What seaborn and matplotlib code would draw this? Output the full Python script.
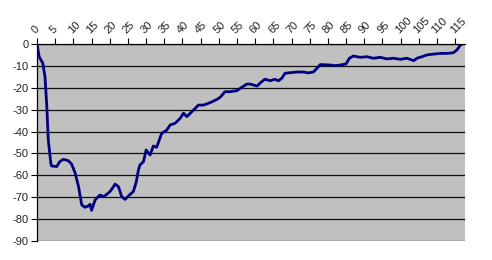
import matplotlib
matplotlib.use("Agg")
import matplotlib.pyplot as plt
import matplotlib.transforms as mtransforms
import seaborn as sns
import pandas as pd

sns.set_style("white")
plt.rcParams['font.family'] = ['Liberation Sans', 'DejaVu Sans']

x_vals = [0, 0.6, 1.6, 2.2, 2.7, 3.1, 3.8, 4.0, 5.4, 6.3, 7.2, 8.6, 9.5, 10.5, 11.4,
          12.3, 13.2, 14.1, 14.6, 15.0, 16.0, 17.3, 18.4, 20.1, 21.5, 22.4, 23.3, 24.2,
          25.4, 26.5, 27.3, 27.9, 28.3, 29.3, 30.0, 31.1, 32.0, 32.9, 34.3, 35.7,
          36.6, 38.0, 39.4, 40.3, 41.2, 42.6, 44.4, 45.8, 47.6, 49.5, 50.4, 51.7,
          53.1, 55.0, 56.3, 57.7, 58.6, 60.5, 61.8, 62.7, 64.1, 65.5, 66.4, 67.3,
          68.2, 69.6, 71.5, 73.3, 74.6, 76.0, 77.0, 77.9, 80.6, 82.0, 83.4, 85.0, 85.9, 87.0,
          88.9, 90.7, 92.5, 94.4, 96.2, 98.0, 99.9, 101.7, 103.6, 104.5, 105.9,
          107.2, 109.1, 110.9, 112.7, 114.5, 115.5, 116.4, 117.0]
y_vals = [0, -5.8, -8.8, -15, -28.6, -43.8, -54.5, -55.7, -56, -53.7, -52.7, -53.3,
          -54.8, -59, -65, -73.5, -74.6, -74, -73.2, -76, -71.2, -69, -69.7, -67.4, -64,
          -65.2, -69.7, -71, -69, -67.4, -63, -57.5, -55.3, -53.7, -48.4, -50.7,
          -46.6, -47.2, -40.8, -39.3, -37, -36.2, -33.9, -31.6, -33.2, -30.9,
          -27.9, -27.9, -26.8, -25.3, -24.3, -21.8, -21.8, -21.3, -19.8, -18.3,
          -18.3, -19.2, -17.2, -16.1, -16.8, -16.1, -16.8, -15.7, -13.4, -13.1,
          -12.8, -12.8, -13.2, -12.8, -11.1, -9.4, -9.6, -9.9, -9.6, -9.1, -6.5, -5.5, -6.1,
          -5.8, -6.5, -6.1, -6.8, -6.5, -7.0, -6.5, -7.6, -6.5, -5.8, -5.0, -4.6,
          -4.3, -4.3, -4.0, -2.7, -0.5, 0]
x_ticks = list(range(0, 116, 5))
x_labels = [str(t) for t in x_ticks]
y_ticks = list(range(0, -91, -10))

df = pd.DataFrame({"x": x_vals, "y": y_vals})

fig = plt.figure(figsize=(4.92, 2.60), dpi=100)
ax = fig.add_axes([37/492, 19/260, 428/492, 197/260])
ax.set_facecolor('#C0C0C0')

sns.lineplot(data=df, x="x", y="y", ax=ax, color='#000080', linewidth=2.0, sort=False)

ax.set_xlim(0, 117.7)
ax.set_ylim(-90, 0)
ax.set_yticks(y_ticks)
ax.set_yticklabels([str(t) for t in y_ticks], fontsize=8, color='#222222')
ax.yaxis.grid(True, color='#101010', linewidth=0.9)
ax.set_axisbelow(True)

ax.xaxis.tick_top()
ax.set_xticks(x_ticks)
ax.set_xticklabels(x_labels, fontsize=8, rotation=45, ha='left', va='bottom',
                   rotation_mode='anchor', color='#222222')
offset = mtransforms.ScaledTranslation(3/100, 0, fig.dpi_scale_trans)
for lbl in ax.get_xticklabels():
    lbl.set_transform(lbl.get_transform() + offset)
ax.tick_params(axis='x', direction='out', length=4, width=0.8, color='black', pad=2,
               top=True, bottom=False)
ax.tick_params(axis='y', direction='out', length=4, width=0.8, color='black', pad=2,
               left=True)
ax.set_xlabel("")
ax.set_ylabel("")

for s in ['right', 'bottom']:
    ax.spines[s].set_visible(False)
for s in ['left', 'top']:
    ax.spines[s].set_color('black')
    ax.spines[s].set_linewidth(0.9)

fig.savefig("out.png", dpi=100)
